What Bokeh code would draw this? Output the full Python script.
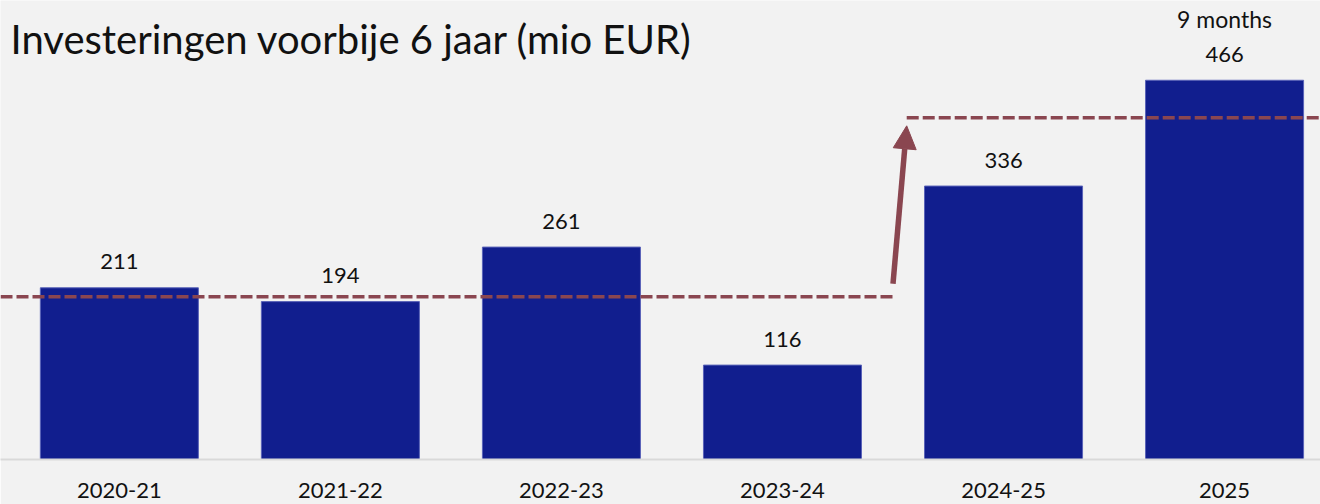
from bokeh.plotting import figure
from bokeh.models import Range1d, Label, Arrow, NormalHead, ColumnDataSource, FixedTicker
from bokeh.core.properties import value
from bokeh.embed import file_html
from bokeh.resources import INLINE

# ---- data ----
categories = ["2020-21", "2021-22", "2022-23", "2023-24", "2024-25", "2025"]
investments = [211, 194, 261, 116, 336, 466]
notes = ["", "", "", "", "", "9 months"]
level_before = 200   # dashed reference level, first four years
level_after = 420    # dashed reference level, recent years
title_text = "Investeringen voorbije 6 jaar (mio EUR)"

BG = "#f2f2f2"
BAR = "#111e8e"
DASH = "#8a4650"
FONT = "Lato"

W, H = 1320, 504
FRAME_H = 459
X0, X1 = -0.5377, 5.434
Y1 = 564.0
px_per_cat = W / (X1 - X0)
px_per_unit = FRAME_H / Y1

xs = list(range(len(categories)))
src = ColumnDataSource(dict(
    x=xs, top=investments, label=[str(v) for v in investments], note=notes))

p = figure(width=W, height=H, output_backend="svg", toolbar_location=None,
           x_range=Range1d(X0, X1), y_range=Range1d(0, Y1),
           min_border_left=0, min_border_right=0, min_border_top=0,
           min_border_bottom=H - FRAME_H,
           background_fill_color=BG, border_fill_color=BG, outline_line_color=None)
p.yaxis.visible = False
p.grid.visible = False

p.vbar(x="x", top="top", width=0.715, source=src, fill_color=BAR,
       line_color="#5a63b8", line_width=1)

p.text(x="x", y="top", text="label", source=src, y_offset=-26,
       text_align="center", text_baseline="alphabetic",
       text_font=value(FONT), text_font_size="22px", text_color="#111111")
p.text(x="x", y="top", text="note", source=src, y_offset=-61,
       text_align="center", text_baseline="alphabetic",
       text_font=value(FONT), text_font_size="23px", text_color="#111111")

# dashed reference levels and arrow between them
split = 3.5
p.line(x=[X0, split], y=[level_before, level_before],
       line_color=DASH, line_width=3.5, line_dash="12 4")
p.line(x=[split + 0.062, X1], y=[level_after, level_after],
       line_color=DASH, line_width=3.5, line_dash="12 4")
p.add_layout(Arrow(x_start=split, y_start=level_before + 16,
                   x_end=split + 0.062, y_end=level_after - 10,
                   line_color=DASH, line_width=5.5,
                   end=NormalHead(size=23, fill_color=DASH, line_color=DASH)))

# x axis
p.xaxis.ticker = FixedTicker(ticks=xs)
p.xaxis.major_label_overrides = {i: c for i, c in zip(xs, categories)}
p.xaxis.major_tick_line_color = None
p.xaxis.minor_tick_line_color = None
p.xaxis.axis_line_color = "#d9d9d9"
p.xaxis.axis_line_width = 2
p.xaxis.major_label_text_font = FONT
p.xaxis.major_label_text_font_size = "22px"
p.xaxis.major_label_text_color = "#111111"
p.xaxis.major_label_standoff = 17

# title, placed 10 px from the left edge near the top
p.add_layout(Label(x=X0 + 10 / px_per_cat, y=(FRAME_H - 38) / px_per_unit,
                   text=title_text, text_font=FONT, text_font_size="40px",
                   text_color="#111111", text_baseline="alphabetic"))

open("out.html", "w").write(file_html(p, INLINE))
